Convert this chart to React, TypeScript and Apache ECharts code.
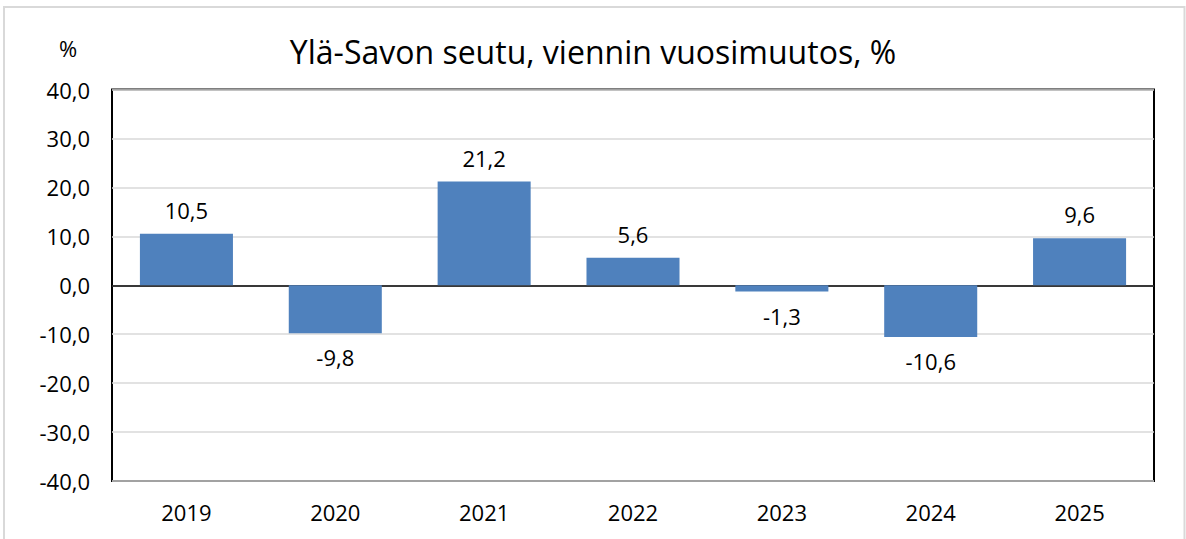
import React, { useEffect, useRef } from "react";
import * as echarts from "echarts";

const categories = ["2019", "2020", "2021", "2022", "2023", "2024", "2025"];
const values = [10.5, -9.8, 21.2, 5.6, -1.3, -10.6, 9.6];
const titleText = "Ylä-Savon seutu, viennin vuosimuutos, %";
const unitText = "%";

const fmt = (v: number) => v.toFixed(1).replace(".", ",");

export default function App() {
  const ref = useRef<HTMLDivElement>(null);
  useEffect(() => {
    document.body.style.margin = "0";
    const chart = echarts.init(ref.current!, null, { renderer: "svg" });
    const font = "'Open Sans', 'Noto Sans', sans-serif";
    chart.setOption({
      animation: false,
      backgroundColor: "#ffffff",
      textStyle: { fontFamily: font },
      title: {
        text: titleText,
        left: "center",
        top: 30,
        textStyle: { fontFamily: font, fontSize: 32, fontWeight: "normal", color: "#000" },
      },
      graphic: [
        {
          type: "rect",
          shape: { x: 4, y: 7, width: 1180.5, height: 540 },
          style: { fill: "none", stroke: "#d9d9d9", lineWidth: 2 },
          silent: true,
        },
        {
          type: "text",
          x: 68,
          y: 48,
          style: { text: unitText, fontFamily: font, fontSize: 22, fill: "#000", align: "center", verticalAlign: "middle" },
        },
      ],
      grid: {
        left: 112,
        top: 89.5,
        right: 32,
        bottom: 58,
        show: true,
        borderColor: "#000",
        borderWidth: 2,
        containLabel: false,
      },
      xAxis: {
        type: "category",
        data: categories,
        axisLine: { onZero: true, lineStyle: { color: "#000", width: 1.5 } },
        axisTick: { show: false },
        axisLabel: { color: "#000", fontSize: 22, fontFamily: font, margin: 20 },
        position: "bottom",
      },
      yAxis: {
        type: "value",
        min: -40,
        max: 40,
        interval: 10,
        axisLine: { show: false },
        axisTick: { show: false },
        axisLabel: { color: "#000", fontSize: 22, fontFamily: font, margin: 22, formatter: (v: number) => fmt(v) },
        splitLine: { lineStyle: { color: "#d9d9d9", width: 1.5 } },
      },
      series: [
        {
          type: "bar",
          data: values,
          barWidth: "62.5%",
          itemStyle: { color: "#4f81bd" },
          label: {
            show: true,
            position: "outside",
            formatter: (p: any) => fmt(p.value),
            color: "#000",
            fontSize: 22,
            fontFamily: font,
            distance: 13,
          },
        },
      ],
    });
    return () => chart.dispose();
  }, []);
  return <div ref={ref} style={{ width: 1186, height: 539 }} />;
}
